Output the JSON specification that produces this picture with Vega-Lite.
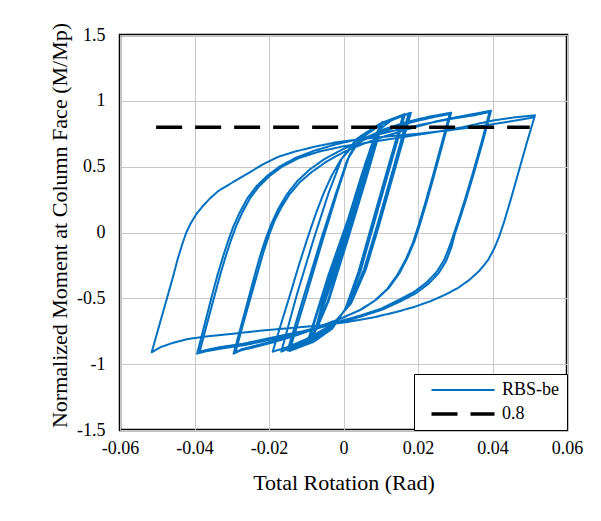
{
  "$schema": "https://vega.github.io/schema/vega-lite/v6.json",
  "width": 447,
  "height": 395,
  "autosize": {"type": "none"},
  "padding": {"left": 120, "top": 35, "right": 34, "bottom": 91},
  "background": "white",
  "config": {
    "view": {"stroke": "black", "strokeWidth": 2.5},
    "font": "Liberation Serif",
    "axis": {
      "grid": true, "gridColor": "#c8c8c8", "gridWidth": 1,
      "domain": false, "ticks": false, "labelFlush": false,
      "labelFont": "Liberation Serif", "labelFontSize": 18, "labelColor": "black",
      "titleFont": "Liberation Serif", "titleFontSize": 22, "titleFontWeight": "normal", "titleColor": "black"
    },
    "legend": {
      "orient": "bottom-right", "offset": 0, "padding": 7,
      "strokeColor": "black", "strokeWidth": 1, "fillColor": "white",
      "labelFont": "Liberation Serif", "labelFontSize": 18, "labelColor": "black",
      "symbolType": "M0.3,0H12.9", "symbolSize": 100, "labelOffset": 63, "rowPadding": 6
    }
  },
  "datasets": {
    "loops": [
      {"x":0.0008,"y":0},{"x":0.0045,"y":0.34},{"x":0.0012,"y":0.0},{"x":-0.0035,"y":-0.36},
      {"x":0.0005,"y":0.0},{"x":0.0046,"y":0.345},{"x":0.0013,"y":0.0},{"x":-0.0036,"y":-0.365},
      {"x":0.0004,"y":0.0},{"x":0.0060,"y":0.47},{"x":0.0014,"y":0.02},{"x":-0.0050,"y":-0.50},
      {"x":0.0003,"y":-0.02},{"x":0.0061,"y":0.475},{"x":0.0015,"y":0.02},{"x":-0.0051,"y":-0.505},
      {"x":0.0002,"y":-0.02},{"x":0.0055,"y":0.45},{"x":0.0083,"y":0.67},{"x":0.0040,"y":0.28},
      {"x":0.0012,"y":0.0},{"x":-0.0072,"y":-0.71},{"x":0.0000,"y":-0.05},{"x":0.0055,"y":0.44},
      {"x":0.0084,"y":0.675},{"x":0.0041,"y":0.28},{"x":0.0014,"y":0.0},{"x":-0.0073,"y":-0.715},
      {"x":-0.0040,"y":-0.35},{"x":0.0010,"y":0.05},{"x":0.0060,"y":0.52},{"x":0.0085,"y":0.72},{"x":0.0105,"y":0.84},
      {"x":0.0060,"y":0.40},{"x":0.0012,"y":-0.05},{"x":-0.0040,"y":-0.52},{"x":-0.0070,"y":-0.72},{"x":-0.0095,"y":-0.84},
      {"x":-0.0042,"y":-0.35},{"x":0.0008,"y":0.05},{"x":0.0058,"y":0.52},{"x":0.0083,"y":0.72},{"x":0.0102,"y":0.83},
      {"x":0.0058,"y":0.40},{"x":0.0010,"y":-0.05},{"x":-0.0042,"y":-0.52},{"x":-0.0072,"y":-0.72},{"x":-0.0097,"y":-0.835},
      {"x":-0.0040,"y":-0.32},{"x":0.0012,"y":0.10},{"x":0.0050,"y":0.45},{"x":0.0075,"y":0.66},{"x":0.0100,"y":0.79},{"x":0.0130,"y":0.855},{"x":0.0160,"y":0.89},
      {"x":0.0120,"y":0.50},{"x":0.0075,"y":0.05},{"x":0.0040,"y":-0.30},{"x":0.0005,"y":-0.58},{"x":-0.0030,"y":-0.73},{"x":-0.0080,"y":-0.83},{"x":-0.0145,"y":-0.90},
      {"x":-0.0100,"y":-0.48},{"x":-0.0055,"y":-0.05},{"x":-0.0015,"y":0.32},{"x":0.0015,"y":0.58},{"x":0.0045,"y":0.73},{"x":0.0100,"y":0.83},{"x":0.0165,"y":0.90},
      {"x":0.0125,"y":0.50},{"x":0.0080,"y":0.05},{"x":0.0045,"y":-0.30},{"x":0.0008,"y":-0.57},{"x":-0.0030,"y":-0.72},{"x":-0.0085,"y":-0.82},{"x":-0.0150,"y":-0.895},
      {"x":-0.0105,"y":-0.47},{"x":-0.0060,"y":-0.05},{"x":-0.0020,"y":0.30},{"x":0.0010,"y":0.55},{"x":0.0045,"y":0.71},{"x":0.0100,"y":0.82},{"x":0.0175,"y":0.905},
      {"x":0.0135,"y":0.50},{"x":0.0090,"y":0.05},{"x":0.0055,"y":-0.28},{"x":0.0015,"y":-0.55},{"x":-0.0030,"y":-0.71},{"x":-0.0090,"y":-0.81},{"x":-0.0167,"y":-0.905},
      {"x":-0.0125,"y":-0.47},{"x":-0.0080,"y":-0.05},{"x":-0.0040,"y":0.30},{"x":-0.0005,"y":0.56},{"x":0.0035,"y":0.71},{"x":0.0100,"y":0.82},{"x":0.0181,"y":0.91},
      {"x":0.0140,"y":0.50},{"x":0.0095,"y":0.05},{"x":0.0060,"y":-0.28},{"x":0.0020,"y":-0.54},{"x":-0.0030,"y":-0.70},{"x":-0.0100,"y":-0.81},{"x":-0.0150,"y":-0.87},{"x":-0.0190,"y":-0.905},
      {"x":-0.0165,"y":-0.67},{"x":-0.0140,"y":-0.44},{"x":-0.0120,"y":-0.25},{"x":-0.0102,"y":-0.09},{"x":-0.0088,"y":0.03},{"x":-0.0072,"y":0.16},{"x":-0.0053,"y":0.30},{"x":-0.0032,"y":0.43},{"x":-0.0008,"y":0.55},{"x":0.0020,"y":0.64},{"x":0.0060,"y":0.72},{"x":0.0110,"y":0.785},{"x":0.0170,"y":0.84},{"x":0.0230,"y":0.88},{"x":0.0289,"y":0.91},
      {"x":0.0265,"y":0.66},{"x":0.0242,"y":0.42},{"x":0.0222,"y":0.22},{"x":0.0205,"y":0.06},{"x":0.0190,"y":-0.07},{"x":0.0172,"y":-0.19},{"x":0.0150,"y":-0.31},{"x":0.0122,"y":-0.42},{"x":0.0088,"y":-0.51},{"x":0.0048,"y":-0.585},{"x":0.0000,"y":-0.645},{"x":-0.0060,"y":-0.715},{"x":-0.0125,"y":-0.78},{"x":-0.0190,"y":-0.835},{"x":-0.0245,"y":-0.875},{"x":-0.0275,"y":-0.895},{"x":-0.0295,"y":-0.92},
      {"x":-0.0275,"y":-0.71},{"x":-0.0255,"y":-0.50},{"x":-0.0237,"y":-0.31},{"x":-0.0222,"y":-0.16},{"x":-0.0208,"y":-0.04},{"x":-0.0193,"y":0.07},{"x":-0.0175,"y":0.18},{"x":-0.0152,"y":0.29},{"x":-0.0124,"y":0.39},{"x":-0.0090,"y":0.48},{"x":-0.0050,"y":0.56},{"x":0.0000,"y":0.635},{"x":0.0060,"y":0.71},{"x":0.0120,"y":0.78},{"x":0.0186,"y":0.84},{"x":0.0240,"y":0.875},{"x":0.0285,"y":0.90},
      {"x":0.0261,"y":0.65},{"x":0.0238,"y":0.41},{"x":0.0218,"y":0.21},{"x":0.0201,"y":0.05},{"x":0.0186,"y":-0.08},{"x":0.0168,"y":-0.20},{"x":0.0145,"y":-0.32},{"x":0.0117,"y":-0.43},{"x":0.0083,"y":-0.52},{"x":0.0043,"y":-0.59},{"x":-0.0005,"y":-0.65},{"x":-0.0065,"y":-0.715},{"x":-0.0130,"y":-0.775},{"x":-0.0195,"y":-0.83},{"x":-0.0245,"y":-0.865},{"x":-0.0272,"y":-0.885},{"x":-0.0290,"y":-0.91},
      {"x":-0.0270,"y":-0.70},{"x":-0.0250,"y":-0.50},{"x":-0.0232,"y":-0.32},{"x":-0.0215,"y":-0.15},{"x":-0.0200,"y":-0.02},{"x":-0.0185,"y":0.09},{"x":-0.0167,"y":0.19},{"x":-0.0145,"y":0.29},{"x":-0.0118,"y":0.38},{"x":-0.0085,"y":0.46},{"x":-0.0045,"y":0.54},{"x":0.0000,"y":0.61},{"x":0.0050,"y":0.67},{"x":0.0110,"y":0.73},{"x":0.0180,"y":0.79},{"x":0.0250,"y":0.845},{"x":0.0320,"y":0.885},{"x":0.0396,"y":0.925},
      {"x":0.0375,"y":0.70},{"x":0.0352,"y":0.47},{"x":0.0330,"y":0.26},{"x":0.0312,"y":0.10},{"x":0.0299,"y":-0.01},{"x":0.0290,"y":-0.11},{"x":0.0275,"y":-0.22},{"x":0.0255,"y":-0.31},{"x":0.0228,"y":-0.39},{"x":0.0195,"y":-0.46},{"x":0.0155,"y":-0.52},{"x":0.0105,"y":-0.585},{"x":0.0045,"y":-0.64},{"x":-0.0025,"y":-0.695},{"x":-0.0105,"y":-0.755},{"x":-0.0190,"y":-0.81},{"x":-0.0265,"y":-0.855},{"x":-0.0325,"y":-0.88},{"x":-0.0365,"y":-0.90},{"x":-0.0393,"y":-0.92},
      {"x":-0.0374,"y":-0.71},{"x":-0.0355,"y":-0.50},{"x":-0.0338,"y":-0.32},{"x":-0.0322,"y":-0.17},{"x":-0.0308,"y":-0.05},{"x":-0.0295,"y":0.05},{"x":-0.0279,"y":0.15},{"x":-0.0258,"y":0.26},{"x":-0.0234,"y":0.35},{"x":-0.0205,"y":0.43},{"x":-0.0172,"y":0.50},{"x":-0.0130,"y":0.565},{"x":-0.0080,"y":0.62},{"x":-0.0020,"y":0.67},{"x":0.0050,"y":0.715},{"x":0.0130,"y":0.77},{"x":0.0210,"y":0.82},{"x":0.0293,"y":0.865},{"x":0.0350,"y":0.89},{"x":0.0392,"y":0.915},
      {"x":0.0371,"y":0.69},{"x":0.0348,"y":0.46},{"x":0.0326,"y":0.25},{"x":0.0308,"y":0.09},{"x":0.0295,"y":-0.02},{"x":0.0284,"y":-0.11},{"x":0.0270,"y":-0.21},{"x":0.0250,"y":-0.30},{"x":0.0223,"y":-0.38},{"x":0.0190,"y":-0.45},{"x":0.0150,"y":-0.51},{"x":0.0100,"y":-0.58},{"x":0.0040,"y":-0.635},{"x":-0.0030,"y":-0.69},{"x":-0.0110,"y":-0.75},{"x":-0.0195,"y":-0.80},{"x":-0.0270,"y":-0.845},{"x":-0.0330,"y":-0.87},{"x":-0.0365,"y":-0.89},{"x":-0.0386,"y":-0.905},
      {"x":-0.0367,"y":-0.70},{"x":-0.0348,"y":-0.50},{"x":-0.0331,"y":-0.32},{"x":-0.0315,"y":-0.17},{"x":-0.0301,"y":-0.05},{"x":-0.0288,"y":0.05},{"x":-0.0272,"y":0.15},{"x":-0.0251,"y":0.26},{"x":-0.0227,"y":0.35},{"x":-0.0198,"y":0.43},{"x":-0.0165,"y":0.50},{"x":-0.0120,"y":0.565},{"x":-0.0065,"y":0.615},{"x":0.0000,"y":0.655},{"x":0.0080,"y":0.69},{"x":0.0160,"y":0.725},{"x":0.0240,"y":0.76},{"x":0.0320,"y":0.80},{"x":0.0400,"y":0.85},{"x":0.0460,"y":0.875},{"x":0.0514,"y":0.89},
      {"x":0.0492,"y":0.68},{"x":0.0470,"y":0.46},{"x":0.0448,"y":0.24},{"x":0.0430,"y":0.07},{"x":0.0418,"y":-0.03},{"x":0.0405,"y":-0.12},{"x":0.0388,"y":-0.21},{"x":0.0365,"y":-0.29},{"x":0.0338,"y":-0.36},{"x":0.0308,"y":-0.42},{"x":0.0275,"y":-0.47},{"x":0.0235,"y":-0.52},{"x":0.0190,"y":-0.565},{"x":0.0140,"y":-0.605},{"x":0.0080,"y":-0.645},{"x":0.0010,"y":-0.68},{"x":-0.0060,"y":-0.705},{"x":-0.0140,"y":-0.725},{"x":-0.0220,"y":-0.745},{"x":-0.0300,"y":-0.77},{"x":-0.0370,"y":-0.79},{"x":-0.0420,"y":-0.81},{"x":-0.0460,"y":-0.84},{"x":-0.0490,"y":-0.87},{"x":-0.0515,"y":-0.91},
      {"x":-0.0495,"y":-0.71},{"x":-0.0475,"y":-0.51},{"x":-0.0458,"y":-0.34},{"x":-0.0445,"y":-0.20},{"x":-0.0433,"y":-0.09},{"x":-0.0422,"y":0.00},{"x":-0.0410,"y":0.07},{"x":-0.0395,"y":0.14},{"x":-0.0378,"y":0.20},{"x":-0.0358,"y":0.26},{"x":-0.0336,"y":0.315},{"x":-0.0310,"y":0.36},{"x":-0.0280,"y":0.41},{"x":-0.0250,"y":0.46},{"x":-0.0215,"y":0.52},{"x":-0.0175,"y":0.575},{"x":-0.0130,"y":0.615},{"x":-0.0080,"y":0.65},{"x":-0.0020,"y":0.685},{"x":0.0050,"y":0.71},{"x":0.0120,"y":0.73},{"x":0.0200,"y":0.75},{"x":0.0280,"y":0.775},{"x":0.0360,"y":0.805},{"x":0.0440,"y":0.84},{"x":0.0512,"y":0.875}
    ],
    "ref": [
      {"x":-0.0503,"y":0.8},
      {"x":0.0500,"y":0.8}
    ]
  },
  "encoding": {
    "x": {
      "field": "x", "type": "quantitative",
      "scale": {"domain": [-0.06, 0.06], "nice": false, "zero": false},
      "axis": {
        "values": [-0.06, -0.04, -0.02, 0, 0.02, 0.04, 0.06],
        "labelExpr": "replace(format(datum.value, '.2~f'), '\u2212', '-')",
        "title": "Total Rotation (Rad)",
        "labelPadding": 9, "titlePadding": 15
      }
    },
    "y": {
      "field": "y", "type": "quantitative",
      "scale": {"domain": [-1.5, 1.5], "nice": false, "zero": false},
      "axis": {
        "values": [-1.5, -1, -0.5, 0, 0.5, 1, 1.5],
        "labelExpr": "replace(format(datum.value, '.1~f'), '\u2212', '-')",
        "title": "Normalized  Moment at Column Face (M/Mp)",
        "labelPadding": 15, "titlePadding": 5, "titleY": 190
      }
    },
    "order": {"value": null}
  },
  "layer": [
    {
      "data": {"name": "loops"},
      "mark": {"type": "line", "strokeJoin": "round"},
      "encoding": {
        "color": {"datum": "RBS-be", "type": "nominal", "title": null,
          "scale": {"domain": ["RBS-be", "0.8"], "range": ["#0070C0", "#000000"]}},
        "strokeDash": {"datum": "RBS-be", "type": "nominal", "title": null,
          "scale": {"domain": ["RBS-be", "0.8"], "range": [[1, 0], [26, 13]]}},
        "strokeWidth": {"datum": "RBS-be", "type": "nominal", "title": null,
          "scale": {"domain": ["RBS-be", "0.8"], "range": [2, 3.5]}}
      }
    },
    {
      "data": {"name": "ref"},
      "mark": {"type": "line"},
      "encoding": {
        "color": {"datum": "0.8", "type": "nominal", "title": null},
        "strokeDash": {"datum": "0.8", "type": "nominal", "title": null},
        "strokeWidth": {"datum": "0.8", "type": "nominal", "title": null}
      }
    }
  ]
}
